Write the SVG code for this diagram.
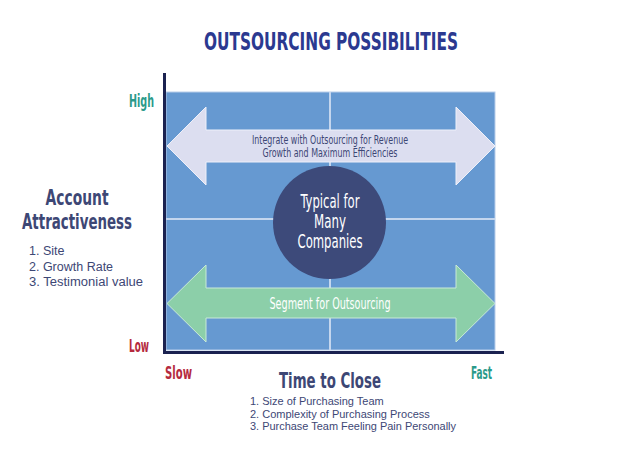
<svg xmlns="http://www.w3.org/2000/svg" width="631" height="451" viewBox="0 0 631 451">
<style>
.cond{font-family:"Liberation Sans Narrow","DejaVu Sans Condensed","DejaVu Sans",sans-serif;font-stretch:condensed}
.bold{font-weight:bold}
.body{font-family:"Liberation Sans",Arial,sans-serif}
.navy{fill:#3d4775}
.red{fill:#b52a3e}
.teal{fill:#2a9a8a}
.grid{stroke:#c4d6ee;stroke-width:2}
.axis{stroke:#1b2250;stroke-width:3;fill:none}
</style>
<rect width="631" height="451" fill="#ffffff"/>
<g id="title">
<text class="cond bold" x="331" y="50" font-size="25" fill="#2b3990" text-anchor="middle" textLength="254" lengthAdjust="spacingAndGlyphs">OUTSOURCING POSSIBILITIES</text>
</g>
<g id="field">
<rect x="166" y="92" width="329" height="258" fill="#6699d1" stroke="#b8cdea" stroke-width="1"/>
<line class="grid" x1="330" y1="92" x2="330" y2="350"/>
<line class="grid" x1="166" y1="219" x2="495" y2="219"/>
</g>
<g id="arrow-integrate">
<polygon points="167,146 206,107 206,130 456,130 456,107 495,146 456,185 456,162 206,162 206,185" fill="#dcdef0" stroke="#eef0fa" stroke-width="1"/>
<text class="cond navy" x="330" y="144" font-size="12" text-anchor="middle" textLength="156" lengthAdjust="spacingAndGlyphs">Integrate with Outsourcing for Revenue</text>
<text class="cond navy" x="330" y="157" font-size="12" text-anchor="middle" textLength="135" lengthAdjust="spacingAndGlyphs">Growth and Maximum Efficiencies</text>
</g>
<g id="arrow-segment">
<polygon points="167,303.5 206,265 206,288 456,288 456,265 495,303.5 456,342 456,318 206,318 206,342" fill="#8ccfa9" stroke="#c9ead7" stroke-width="1"/>
<text class="cond" x="330" y="309" font-size="16" fill="#ffffff" text-anchor="middle" textLength="121" lengthAdjust="spacingAndGlyphs">Segment for Outsourcing</text>
</g>
<g id="typical">
<circle cx="329.5" cy="222.5" r="56.5" fill="#3d4a7a"/>
<text class="cond" x="330" y="208" font-size="19" fill="#ffffff" text-anchor="middle" textLength="59" lengthAdjust="spacingAndGlyphs">Typical for</text>
<text class="cond" x="330" y="228" font-size="19" fill="#ffffff" text-anchor="middle" textLength="32" lengthAdjust="spacingAndGlyphs">Many</text>
<text class="cond" x="330" y="248" font-size="19" fill="#ffffff" text-anchor="middle" textLength="65" lengthAdjust="spacingAndGlyphs">Companies</text>
</g>
<g id="axes">
<line class="axis" x1="164.5" y1="73" x2="164.5" y2="354"/>
<line class="axis" x1="163" y1="352.5" x2="504" y2="352.5"/>
</g>
<g id="y-axis-label">
<text class="cond bold navy" x="77" y="205" font-size="22" text-anchor="middle" textLength="63" lengthAdjust="spacingAndGlyphs">Account</text>
<text class="cond bold navy" x="77" y="229" font-size="22" text-anchor="middle" textLength="110" lengthAdjust="spacingAndGlyphs">Attractiveness</text>
<text class="body navy" x="29" y="255" font-size="12.5">1. Site</text>
<text class="body navy" x="29" y="271" font-size="12.5">2. Growth Rate</text>
<text class="body navy" x="29" y="286" font-size="12.5" textLength="114" lengthAdjust="spacingAndGlyphs">3. Testimonial value</text>
<text class="cond bold teal" x="129" y="107" font-size="17" textLength="25" lengthAdjust="spacingAndGlyphs">High</text>
<text class="cond bold red" x="129" y="352" font-size="17" textLength="20" lengthAdjust="spacingAndGlyphs">Low</text>
</g>
<g id="x-axis-label">
<text class="cond bold red" x="165" y="379" font-size="17" textLength="27" lengthAdjust="spacingAndGlyphs">Slow</text>
<text class="cond bold teal" x="471" y="379" font-size="17" textLength="21" lengthAdjust="spacingAndGlyphs">Fast</text>
<text class="cond bold navy" x="330" y="388" font-size="22" text-anchor="middle" textLength="102" lengthAdjust="spacingAndGlyphs">Time to Close</text>
<text class="body navy" x="250" y="405" font-size="11">1. Size of Purchasing Team</text>
<text class="body navy" x="250" y="417.5" font-size="11">2. Complexity of Purchasing Process</text>
<text class="body navy" x="250" y="430" font-size="11" textLength="206" lengthAdjust="spacingAndGlyphs">3. Purchase Team Feeling Pain Personally</text>
</g>
<g id="connectors"/>
</svg>
